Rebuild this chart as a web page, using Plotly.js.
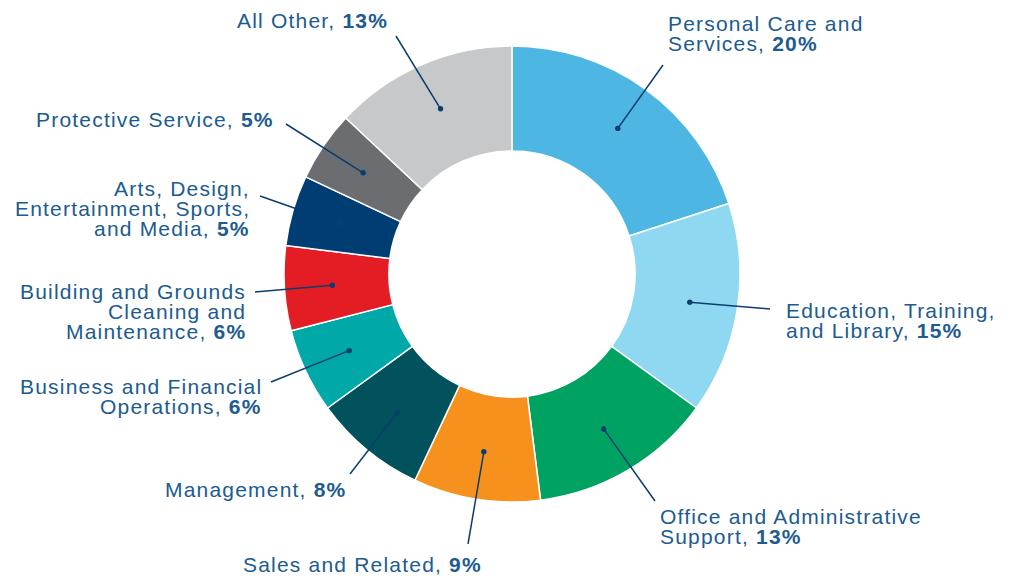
<!DOCTYPE html>
<html><head><meta charset="utf-8">
<script src="https://cdn.plot.ly/plotly-3.0.1.min.js"></script>
<style>
html,body{margin:0;padding:0;background:#fff;}
#chart{width:1011px;height:576px;}
svg text.annotation-text{letter-spacing:1.2px;}
</style></head><body><div id="chart"></div>
<script>
const categories = ["Personal Care and Services", "Education, Training, and Library", "Office and Administrative Support", "Sales and Related", "Management", "Business and Financial Operations", "Building and Grounds Cleaning and Maintenance", "Arts, Design, Entertainment, Sports, and Media", "Protective Service", "All Other"];
const values = [20, 15, 13, 9, 8, 6, 6, 5, 5, 13];
const colors = ["#4db6e3", "#8ed8f1", "#00a261", "#f6911e", "#01525c", "#00a8a8", "#e41d25", "#003d73", "#6c6d70", "#c7c8ca"];
const labelLines = [
  ["Personal Care and", "Services,"],
  ["Education, Training,", "and Library,"],
  ["Office and Administrative", "Support,"],
  ["Sales and Related,"],
  ["Management,"],
  ["Business and Financial", "Operations,"],
  ["Building and Grounds", "Cleaning and", "Maintenance,"],
  ["Arts, Design,", "Entertainment, Sports,", "and Media,"],
  ["Protective Service,"],
  ["All Other,"]
];

const W = 1011, H = 576;
const cx = 512, cy = 274, R = 228, dotR = 180;
const textColor = "#205b8f", lineColor = "#0b3d6e";
const FS = 21, LH = 20;
// label placement (pixels): x, first baseline, anchor, leader-line end
const labelLayout = [
  {x: 667, y: 30.7, a: "left", lx: 663, ly: 65},
  {x: 785, y: 318.3, a: "left", lx: 770, ly: 309},
  {x: 659, y: 524.3, a: "left", lx: 655, ly: 501},
  {x: 362.3, y: 571.7, a: "center", lx: 468, ly: 544},
  {x: 347, y: 496.7, a: "right", lx: 350, ly: 474},
  {x: 263, y: 394, a: "right", lx: 271, ly: 382},
  {x: 247, y: 299, a: "right", lx: 255, ly: 292},
  {x: 251, y: 196, a: "right", lx: 260, ly: 196},
  {x: 275, y: 126.7, a: "right", lx: 286, ly: 124},
  {x: 312.5, y: 28, a: "center", lx: 396, ly: 36}
];

const px = x => x / W, py = y => 1 - y / H;
const total = values.reduce((s, v) => s + v, 0);
const annotations = [], shapes = [];
let cum = 0;
values.forEach((v, i) => {
  const th = (cum + v / 2) / total * 2 * Math.PI;
  cum += v;
  const dx = cx + dotR * Math.sin(th), dy = cy - dotR * Math.cos(th);
  const L = labelLayout[i];
  shapes.push({type: "line", xref: "paper", yref: "paper", x0: px(L.lx), y0: py(L.ly), x1: px(dx), y1: py(dy), line: {color: lineColor, width: 1.5}});
  shapes.push({type: "circle", xref: "paper", yref: "paper", x0: px(dx - 2.7), x1: px(dx + 2.7), y0: py(dy - 2.7), y1: py(dy + 2.7), fillcolor: lineColor, line: {width: 0}});
  const lines = labelLines[i];
  lines.forEach((t, k) => {
    const txt = k === lines.length - 1 ? t + " <b>" + v + "%</b>" : t;
    annotations.push({
      text: txt, showarrow: false, xref: "paper", yref: "paper",
      x: px(L.x), y: py(L.y + k * LH - 7.4), xanchor: L.a, yanchor: "middle",
      font: {family: "Liberation Sans, Arial, sans-serif", size: FS, color: textColor},
      borderpad: 0
    });
  });
});

const trace = {
  type: "pie", values: values, labels: categories,
  marker: {colors: colors, line: {color: "#ffffff", width: 1.5}},
  hole: 0.54, sort: false, direction: "clockwise", rotation: 0,
  textinfo: "none", hoverinfo: "none", showlegend: false,
  domain: {x: [(cx - R) / W, (cx + R) / W], y: [(H - cy - R) / H, (H - cy + R) / H]}
};
const layout = {
  width: W, height: H, margin: {l: 0, r: 0, t: 0, b: 0},
  paper_bgcolor: "#ffffff", plot_bgcolor: "#ffffff",
  showlegend: false, annotations: annotations, shapes: shapes
};
Plotly.newPlot("chart", [trace], layout, {staticPlot: true, displayModeBar: false});
</script></body></html>
